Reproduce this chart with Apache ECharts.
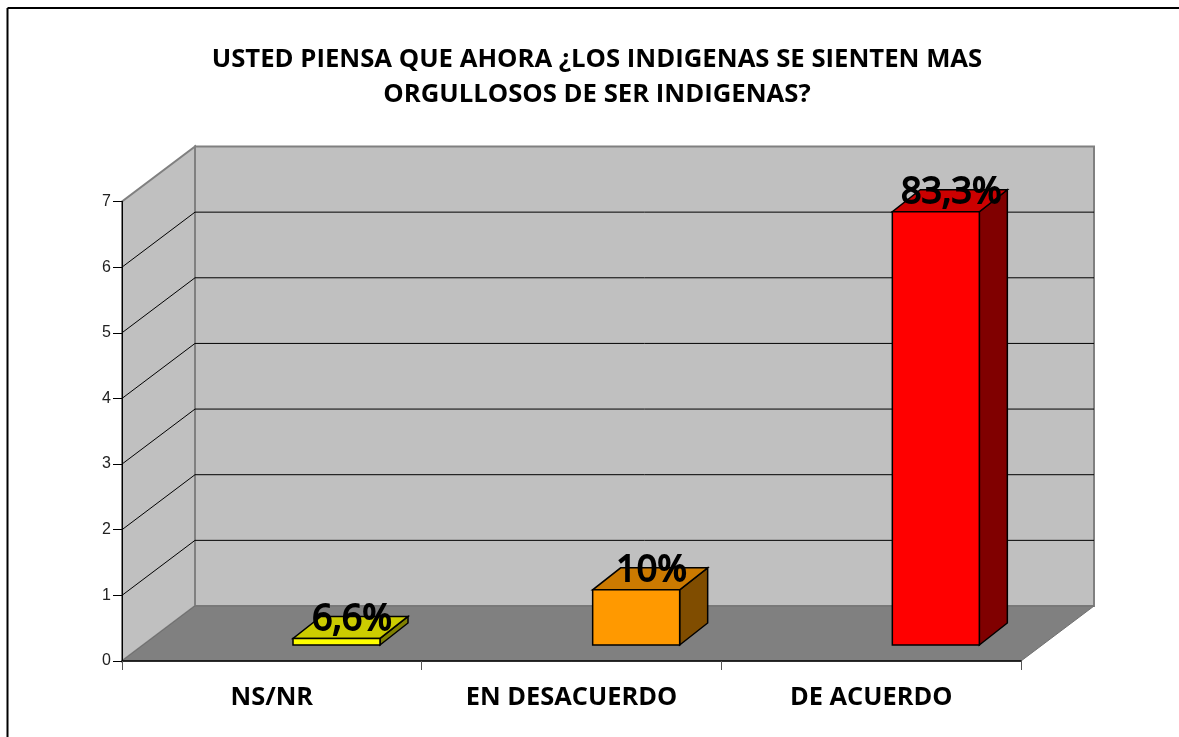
<!DOCTYPE html>
<html><head><meta charset="utf-8">
<style>html,body{margin:0;padding:0;background:#fff}#c{width:1179px;height:737px}</style>
<script src="https://cdn.jsdelivr.net/npm/echarts@6/dist/echarts.min.js"></script>
</head><body><div id="c"></div>
<script>
const titleText = 'USTED PIENSA QUE AHORA ¿LOS INDIGENAS SE SIENTEN MAS\nORGULLOSOS DE SER INDIGENAS?';
const categories = ['NS/NR', 'EN DESACUERDO', 'DE ACUERDO'];
const values = [0.1, 0.84, 6.6];
const valueLabels = ['6,6%', '10%', '83,3%'];
const frontColors = ['#ffff00', '#ff9900', '#ff0000'];
const topColors = ['#cccc00', '#cc7a00', '#cc0000'];
const sideColors = ['#808000', '#804d00', '#800000'];
const wallTicks = [0, 1, 2, 3, 4, 5, 6, 7];
const wallDepth = [73, -55];
const barDepth = [28, -22];
const barInset = [21, -16];
const FONT = '"Open Sans"';

const chart = echarts.init(document.getElementById('c'), null, {renderer: 'canvas'});

function poly(points, fill, stroke, lw) {
  return {type: 'polygon', shape: {points}, style: {fill, stroke: stroke || null, lineWidth: lw || 0}};
}
function seg(a, b, stroke, lw) {
  return {type: 'line', shape: {x1: a[0], y1: a[1], x2: b[0], y2: b[1]}, style: {stroke, lineWidth: lw || 1, fill: null}};
}
const off = (p, d) => [p[0] + d[0], p[1] + d[1]];

function renderWalls(params, api) {
  const cs = params.coordSys;
  const x0 = cs.x, x1 = cs.x + cs.width;
  const y0 = api.coord([0, 0])[1], y7 = api.coord([0, 7])[1];
  const fl = [x0, y0], fr = [x1, y0], tl = [x0, y7], tr = [x1, y7];
  const d = wallDepth;
  const ch = [
    poly([off(fl, d), off(fr, d), off(tr, d), off(tl, d)], '#c0c0c0', '#808080', 2),
    poly([fl, off(fl, d), off(tl, d), tl], '#c0c0c0', '#808080', 2),
    poly([fl, fr, off(fr, d), off(fl, d)], '#808080', '#707070', 1)
  ];
  wallTicks.slice(1, -1).forEach(t => {
    const y = api.coord([0, t])[1];
    ch.push(seg([x0, y], off([x0, y], d), '#000', 1));
    ch.push(seg(off([x0, y], d), off([x1, y], d), '#000', 1));
  });
  return {type: 'group', children: ch};
}

function renderBar(params, api) {
  const i = api.value(0), v = api.value(1);
  const bandW = api.size([1, 0])[0];
  const c = api.coord([i, 0]);
  const t = api.coord([i, v]);
  const w = 87;
  const left = c[0] - bandW / 2 + 171;
  const b = c[1] + barInset[1], top = t[1] + barInset[1];
  const bl = [left, b], br = [left + w, b], tl = [left, top], tr = [left + w, top];
  const d = barDepth, lw = 1.5;
  return {type: 'group', children: [
    poly([br, off(br, d), off(tr, d), tr], sideColors[i], '#000', lw),
    poly([tl, tr, off(tr, d), off(tl, d)], topColors[i], '#000', lw),
    poly([bl, br, tr, tl], frontColors[i], '#000', lw)
  ]};
}

function renderLabel(params, api) {
  const i = api.value(0), v = api.value(1);
  const bandW = api.size([1, 0])[0];
  const c = api.coord([i, v]);
  return {type: 'text', style: {
    x: c[0] - bandW / 2 + 230, y: c[1] - 35,
    text: valueLabels[i], fill: '#000', stroke: '#000', lineWidth: 1.8, align: 'center', verticalAlign: 'middle',
    font: '400 36px ' + FONT
  }};
}

chart.setOption({
  animation: false,
  backgroundColor: '#fff',
  title: {
    text: titleText, left: 592, top: 37, textAlign: 'center',
    textStyle: {fontFamily: FONT, fontSize: 25.7, fontWeight: 'bold', color: '#000', lineHeight: 35}
  },
  graphic: [
    {type: 'line', shape: {x1: 7.5, y1: 8, x2: 1179, y2: 8}, style: {stroke: '#000', lineWidth: 2}, silent: true},
    {type: 'line', shape: {x1: 7.5, y1: 8, x2: 7.5, y2: 737}, style: {stroke: '#000', lineWidth: 2}, silent: true}
  ],
  grid: {left: 122, right: 158, top: 201.5, bottom: 76},
  xAxis: {
    type: 'category', data: categories, z: 5,
    axisLine: {lineStyle: {color: '#000', width: 1.5}},
    axisTick: {show: true, alignWithLabel: false, length: 9, lineStyle: {color: '#555'}},
    axisLabel: {interval: 0, margin: 24, color: '#000', fontFamily: FONT, fontSize: 25.4, fontWeight: 'bold'}
  },
  yAxis: {
    type: 'value', min: 0, max: 7, interval: 1, z: 5,
    axisLine: {show: true, lineStyle: {color: '#000', width: 1}},
    axisTick: {show: true, length: 9, lineStyle: {color: '#000'}},
    splitLine: {show: false},
    axisLabel: {margin: 11, color: '#222', fontFamily: '"Liberation Sans"', fontSize: 16, padding: [3, 0, 0, 0]}
  },
  series: [
    {type: 'custom', z: 1, silent: true, renderItem: renderWalls, data: [[0, 0]], clip: false},
    {type: 'custom', z: 2, silent: true, renderItem: renderBar, data: values.map((v, i) => [i, v]), clip: false, encode: {x: 0, y: 1}},
    {type: 'custom', z: 6, silent: true, renderItem: renderLabel, data: values.map((v, i) => [i, v]), clip: false, encode: {x: 0, y: 1}}
  ]
});
</script></body></html>
